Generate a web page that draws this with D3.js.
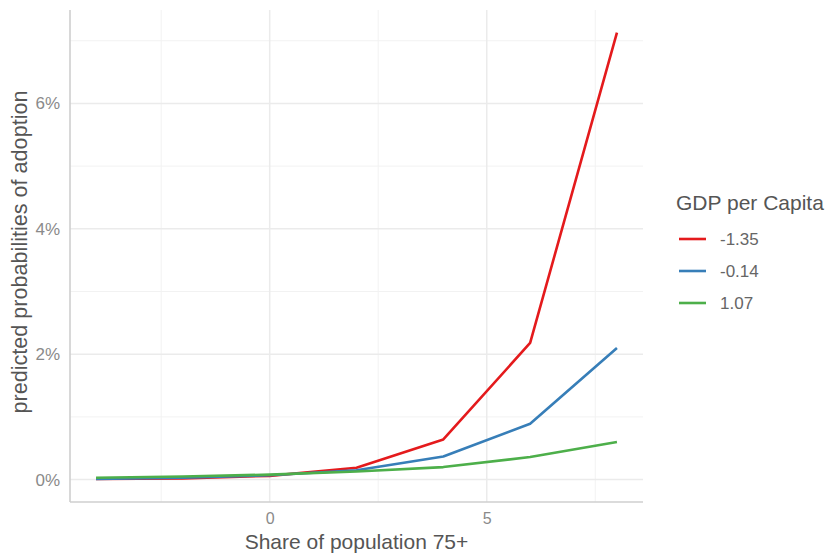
<!DOCTYPE html>
<html><head><meta charset="utf-8">
<script src="https://cdn.jsdelivr.net/npm/d3@7"></script>
<style>body{margin:0;background:#fff;} text{font-family:"Liberation Sans",Arial,sans-serif;}</style>
</head><body>
<svg id="chart" width="829" height="554"></svg>
<script>
const xValues = [-4, -2, 0, 2, 4, 6, 8];
const seriesNames = ["-1.35", "-0.14", "1.07"];
const seriesColors = ["#e41a1c", "#377eb8", "#4daf4a"];
const redValues   = [0.0001, 0.0002, 0.0006, 0.0019, 0.0064, 0.0218, 0.0713];
const blueValues  = [0.0001, 0.0003, 0.0007, 0.0015, 0.0037, 0.0089, 0.0210];
const greenValues = [0.0003, 0.0005, 0.0008, 0.0013, 0.0020, 0.0036, 0.0060];
const xMajorTicks = [0, 5];
const xMinorTicks = [-2.5, 2.5, 7.5];
const yMajorTicks = [0, 0.02, 0.04, 0.06];
const yMinorTicks = [0.01, 0.03, 0.05, 0.07];

const svg = d3.select("#chart");
const pL = 70, pR = 643, pT = 10, pB = 502;
const x = d3.scaleLinear().domain([-4.6, 8.6]).range([pL, pR]);
const y = d3.scaleLinear().domain([-0.00357, 0.0749]).range([pB, pT]);

const grid = svg.append("g");
grid.selectAll(".xmin").data(xMinorTicks).join("line")
  .attr("x1", d => x(d)).attr("x2", d => x(d)).attr("y1", pT).attr("y2", pB)
  .attr("stroke", "#f2f2f2").attr("stroke-width", 1);
grid.selectAll(".ymin").data(yMinorTicks).join("line")
  .attr("x1", pL).attr("x2", pR).attr("y1", d => y(d)).attr("y2", d => y(d))
  .attr("stroke", "#f2f2f2").attr("stroke-width", 1);
grid.selectAll(".xmaj").data(xMajorTicks).join("line")
  .attr("x1", d => x(d)).attr("x2", d => x(d)).attr("y1", pT).attr("y2", pB)
  .attr("stroke", "#ebebeb").attr("stroke-width", 1.5);
grid.selectAll(".ymaj").data(yMajorTicks).join("line")
  .attr("x1", pL).attr("x2", pR).attr("y1", d => y(d)).attr("y2", d => y(d))
  .attr("stroke", "#ebebeb").attr("stroke-width", 1.5);

// axis lines
svg.append("line").attr("x1", pL).attr("x2", pL).attr("y1", pT).attr("y2", pB)
  .attr("stroke", "#cfcfcf").attr("stroke-width", 1.6);
svg.append("line").attr("x1", pL).attr("x2", pR).attr("y1", pB).attr("y2", pB)
  .attr("stroke", "#cfcfcf").attr("stroke-width", 1.6);

// tick labels
const xAxis = d3.axisBottom(x).tickValues(xMajorTicks).tickSize(0).tickPadding(11).tickFormat(d3.format("d"));
const gx = svg.append("g").attr("transform", `translate(0,${pB})`).call(xAxis);
gx.select(".domain").remove();
gx.selectAll("text").attr("font-size", 16).attr("fill", "#8a8a8a").attr("font-family", "Liberation Sans, Arial, sans-serif");

const yAxis = d3.axisLeft(y).tickValues(yMajorTicks).tickSize(0).tickPadding(10).tickFormat(d3.format(".0%"));
const gy = svg.append("g").attr("transform", `translate(${pL},0)`).call(yAxis);
gy.select(".domain").remove();
gy.selectAll("text").attr("font-size", 17).attr("fill", "#8a8a8a").attr("font-family", "Liberation Sans, Arial, sans-serif");

// lines
const allSeries = [redValues, blueValues, greenValues];
const line = d3.line().x((d, i) => x(xValues[i])).y(d => y(d));
svg.append("g").selectAll("path").data(allSeries).join("path")
  .attr("d", d => line(d)).attr("fill", "none")
  .attr("stroke", (d, i) => seriesColors[i]).attr("stroke-width", 2.6)
  .attr("stroke-linejoin", "round");

// axis titles
svg.append("text").attr("x", (pL + pR) / 2).attr("y", 549).attr("text-anchor", "middle")
  .attr("font-size", 21).attr("fill", "#555").text("Share of population 75+");
svg.append("text").attr("transform", `translate(27,252) rotate(-90)`)
  .attr("text-anchor", "middle").attr("font-size", 21.6).attr("fill", "#555")
  .text("predicted probabilities of adoption");

// legend
const lg = svg.append("g");
lg.append("text").attr("x", 676).attr("y", 210).attr("font-size", 21).attr("fill", "#555").text("GDP per Capita");
const items = lg.selectAll(".item").data(seriesNames).join("g")
  .attr("transform", (d, i) => `translate(0,${239 + i * 32})`);
items.append("line").attr("x1", 679).attr("x2", 706).attr("y1", 0).attr("y2", 0)
  .attr("stroke", (d, i) => seriesColors[i]).attr("stroke-width", 2.6);
items.append("text").attr("x", 720).attr("y", 6).attr("font-size", 17).attr("fill", "#666").text(d => d);
</script>
</body></html>
